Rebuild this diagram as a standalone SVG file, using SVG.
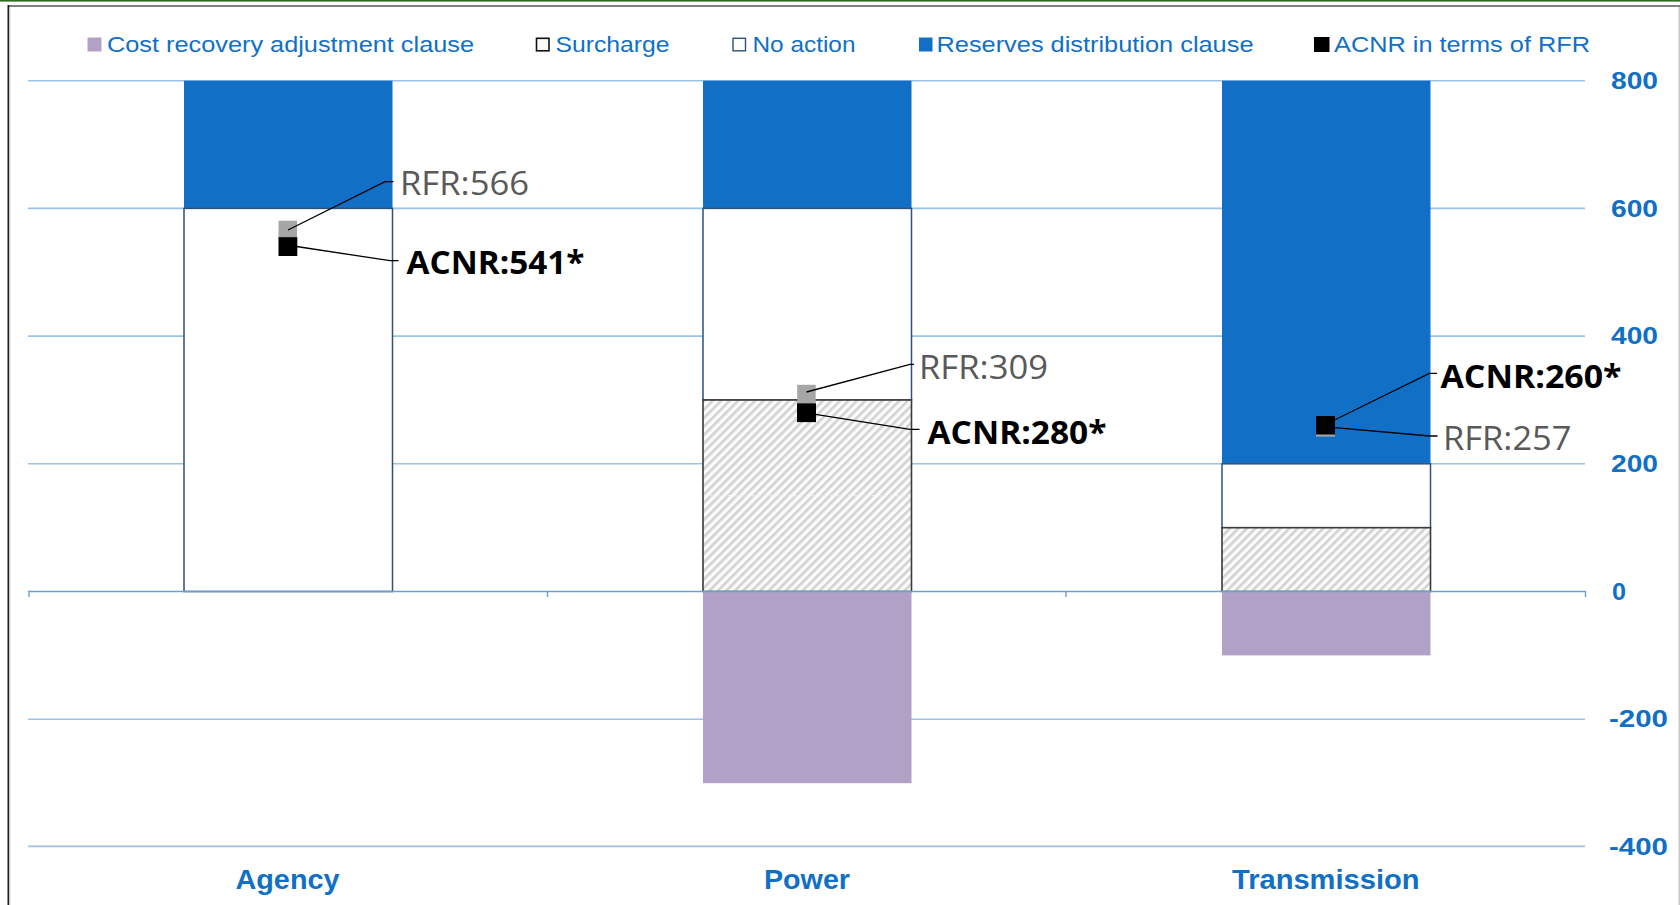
<svg xmlns="http://www.w3.org/2000/svg" width="1680" height="905" viewBox="0 0 1680 905">
  <defs>
    <pattern id="hatch" width="6" height="6" patternUnits="userSpaceOnUse" patternTransform="rotate(45)">
      <rect width="6" height="6" fill="#fbfbfb"/>
      <rect width="2.6" height="6" fill="#d2d2d2"/>
    </pattern>
    <style>
      .grid { stroke: #9cc2e8; stroke-width: 1.6; }
      .zero { stroke: #6f9fcf; stroke-width: 1.6; }
      .tick { stroke: #6f9fcf; stroke-width: 1.4; }
      .reserve { fill: #1170c6; }
      .noaction { fill: #ffffff; stroke: #2d527c; stroke-width: 1.5; }
      .surcharge { fill: url(#hatch); stroke: #3a3a3a; stroke-width: 1.6; }
      .cost { fill: #b2a1c7; }
      .leg { font-family: "Liberation Sans", Arial, sans-serif; font-size: 22px; fill: #1170c6; }
      .ax { font-family: "Liberation Sans", Arial, sans-serif; font-size: 24px; font-weight: bold; fill: #1170c6; }
      .cat { font-family: "Liberation Sans", Arial, sans-serif; font-size: 28px; font-weight: bold; fill: #1170c6; text-anchor: start; }
      .rfr { font-family: "Open Sans", "Noto Sans", sans-serif; font-size: 32px; fill: #595959; }
      .acnr { font-family: "Open Sans", "Noto Sans", sans-serif; font-size: 33px; font-weight: bold; fill: #000000; }
      .lead { stroke: #000000; stroke-width: 1.3; fill: none; }
      .mk-rfr { fill: #a6a6a6; }
      .mk-acnr { fill: #000000; }
    </style>
  </defs>

  <!-- page background and frame -->
  <rect x="0" y="0" width="1680" height="905" fill="#ffffff"/>
  <rect x="0" y="0" width="1680" height="1.6" fill="#2f6b22"/>
  <rect x="8" y="5" width="1672" height="2" fill="#808080"/>
  <rect x="7.5" y="5" width="1.8" height="900" fill="#1e1e1e"/>
  <rect x="9.3" y="7" width="1" height="898" fill="#c8c8c8"/>
  <rect x="1678.5" y="7" width="1.5" height="898" fill="#c8c8c8"/>

  <!-- value gridlines -->
  <g id="gridlines">
    <line class="grid" x1="28" y1="80.7" x2="1585" y2="80.7"/>
    <line class="grid" x1="28" y1="208.4" x2="1585" y2="208.4"/>
    <line class="grid" x1="28" y1="336.1" x2="1585" y2="336.1"/>
    <line class="grid" x1="28" y1="463.8" x2="1585" y2="463.8"/>
    <line class="grid" x1="28" y1="719.2" x2="1585" y2="719.2"/>
    <line class="grid" x1="28" y1="846.4" x2="1585" y2="846.4"/>
  </g>

  <!-- Agency column -->
  <g id="agency">
    <rect class="reserve" x="184" y="80.7" width="208.5" height="127.7"/>
    <rect class="noaction" x="184" y="208.4" width="208.5" height="383.1"/>
  </g>

  <!-- Power column -->
  <g id="power">
    <rect class="reserve" x="703" y="80.7" width="208.5" height="127.7"/>
    <rect class="noaction" x="703" y="208.4" width="208.5" height="191.6"/>
    <rect class="surcharge" x="703" y="400" width="208.5" height="191.5"/>
    <line x1="704" y1="495.8" x2="910.5" y2="495.8" stroke="#f2f2f2" stroke-width="1" stroke-dasharray="3 3"/>
    <rect class="cost" x="703" y="591.5" width="208.5" height="191.7"/>
  </g>

  <!-- Transmission column -->
  <g id="transmission">
    <rect class="reserve" x="1222" y="80.7" width="208.5" height="383.1"/>
    <rect class="noaction" x="1222" y="463.8" width="208.5" height="63.9"/>
    <rect class="surcharge" x="1222" y="527.7" width="208.5" height="63.8"/>
    <rect class="cost" x="1222" y="591.5" width="208.5" height="63.9"/>
  </g>

  <!-- category axis -->
  <g id="category-axis">
    <line class="zero" x1="28" y1="591.5" x2="1586" y2="591.5"/>
    <line class="tick" x1="29" y1="591.5" x2="29" y2="597"/>
    <line class="tick" x1="547.5" y1="591.5" x2="547.5" y2="597"/>
    <line class="tick" x1="1066" y1="591.5" x2="1066" y2="597"/>
    <line class="tick" x1="1585.5" y1="591.5" x2="1585.5" y2="597"/>
    <text class="cat" x="235.5" y="889" textLength="104" lengthAdjust="spacingAndGlyphs">Agency</text>
    <text class="cat" x="764" y="889" textLength="86" lengthAdjust="spacingAndGlyphs">Power</text>
    <text class="cat" x="1232" y="889" textLength="187.5" lengthAdjust="spacingAndGlyphs">Transmission</text>
  </g>

  <!-- value axis labels -->
  <g id="value-axis">
    <text class="ax" x="1611" y="89" textLength="47" lengthAdjust="spacingAndGlyphs">800</text>
    <text class="ax" x="1611" y="216.5" textLength="47" lengthAdjust="spacingAndGlyphs">600</text>
    <text class="ax" x="1611" y="344.2" textLength="47" lengthAdjust="spacingAndGlyphs">400</text>
    <text class="ax" x="1611" y="471.9" textLength="47" lengthAdjust="spacingAndGlyphs">200</text>
    <text class="ax" x="1612" y="599.6" textLength="14" lengthAdjust="spacingAndGlyphs">0</text>
    <text class="ax" x="1609" y="727.3" textLength="59" lengthAdjust="spacingAndGlyphs">-200</text>
    <text class="ax" x="1609" y="855" textLength="59" lengthAdjust="spacingAndGlyphs">-400</text>
  </g>

  <!-- markers -->
  <g id="markers">
    <rect class="mk-rfr" x="278.5" y="220.7" width="18.5" height="18.5"/>
    <rect class="mk-acnr" x="278.5" y="237.2" width="18.8" height="18.8"/>
    <rect class="mk-rfr" x="797.2" y="384.8" width="18.5" height="18.5"/>
    <rect class="mk-acnr" x="797" y="403.3" width="19" height="18.8"/>
    <rect class="mk-rfr" x="1316" y="417.8" width="19" height="18.8"/>
    <rect class="mk-acnr" x="1316" y="416" width="19" height="18.5"/>
  </g>

  <!-- leader lines -->
  <g id="connectors">
    <polyline class="lead" points="288,230 385,181.7 393.5,181.7"/>
    <polyline class="lead" points="296.5,246.5 390,260.7 398.5,260.7"/>
    <polyline class="lead" points="806.5,392 910,364.3 914,364.3"/>
    <polyline class="lead" points="815.5,414.3 910,429.3 919.5,429.3"/>
    <polyline class="lead" points="1334.5,420 1429.3,373.3 1437,373.3"/>
    <polyline class="lead" points="1334.5,427.7 1430,436 1437.5,436"/>
  </g>

  <!-- data labels -->
  <g id="data-labels">
    <text class="rfr" x="400" y="195" textLength="129" lengthAdjust="spacingAndGlyphs">RFR:566</text>
    <text class="acnr" x="406.5" y="273.5" textLength="178" lengthAdjust="spacingAndGlyphs">ACNR:541*</text>
    <text class="rfr" x="919" y="379" textLength="129" lengthAdjust="spacingAndGlyphs">RFR:309</text>
    <text class="acnr" x="927.5" y="443.5" textLength="179" lengthAdjust="spacingAndGlyphs">ACNR:280*</text>
    <text class="acnr" x="1440.5" y="387.5" textLength="181" lengthAdjust="spacingAndGlyphs">ACNR:260*</text>
    <text class="rfr" x="1443" y="449.5" textLength="128.5" lengthAdjust="spacingAndGlyphs">RFR:257</text>
  </g>

  <!-- legend -->
  <g id="legend">
    <rect x="87.5" y="37.5" width="14" height="14" fill="#b2a1c7"/>
    <text class="leg" x="107" y="52" textLength="367" lengthAdjust="spacingAndGlyphs">Cost recovery adjustment clause</text>
    <rect x="536.5" y="38.3" width="12.5" height="12.5" fill="#fafafa" stroke="#111111" stroke-width="1.6"/>
    <text class="leg" x="555.5" y="52" textLength="114" lengthAdjust="spacingAndGlyphs">Surcharge</text>
    <rect x="733" y="38.3" width="12.5" height="12.5" fill="#ffffff" stroke="#2d527c" stroke-width="1.4"/>
    <text class="leg" x="752.5" y="52" textLength="103" lengthAdjust="spacingAndGlyphs">No action</text>
    <rect x="919" y="37.5" width="13.5" height="14" fill="#1170c6"/>
    <text class="leg" x="936.5" y="52" textLength="317" lengthAdjust="spacingAndGlyphs">Reserves distribution clause</text>
    <rect x="1314" y="37" width="15.5" height="15" fill="#000000"/>
    <text class="leg" x="1334" y="52" textLength="256" lengthAdjust="spacingAndGlyphs">ACNR in terms of RFR</text>
  </g>
</svg>
